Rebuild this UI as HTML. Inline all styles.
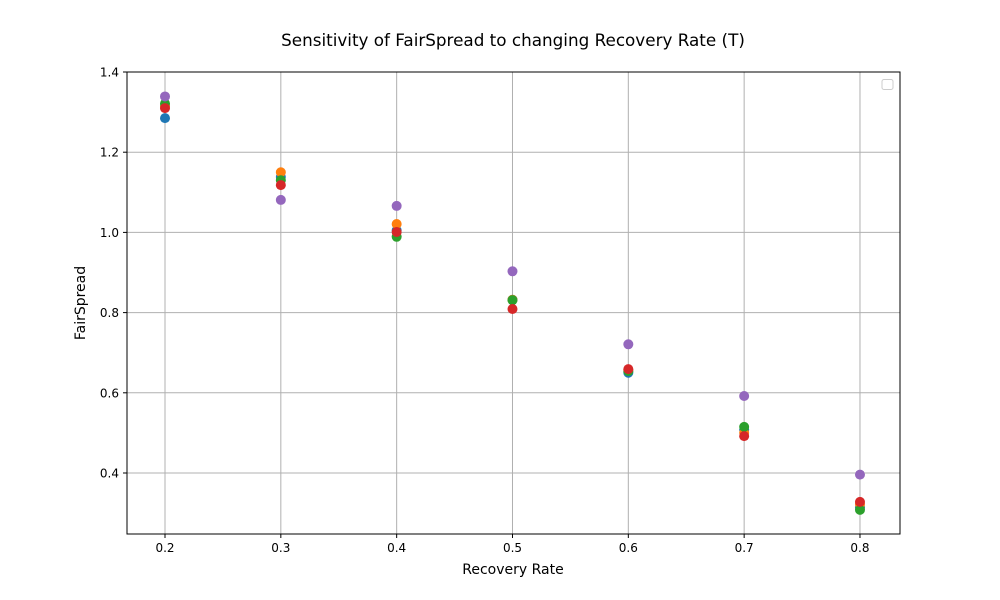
<!DOCTYPE html>
<html><head><meta charset="utf-8"><style>body{margin:0;background:#fff}svg{display:block;font-family:"DejaVu Sans","Liberation Sans",sans-serif}</style></head>
<body>
<svg id="chart" width="1000" height="600">
<rect width="1000" height="600" fill="#fff"/>
<text x="513" y="46" text-anchor="middle" font-size="16.8">Sensitivity of FairSpread to changing Recovery Rate (T)</text>
<g id="grid"></g><g id="ticks"></g><g id="marks"></g>
<rect x="127" y="72" width="773" height="462" fill="none" stroke="#000" stroke-width="1"/>
<rect x="882" y="79.5" width="11" height="10" rx="2" fill="#fff" stroke="#ccc"/>
<text x="513" y="574" text-anchor="middle" font-size="14">Recovery Rate</text>
<text x="85" y="303" text-anchor="middle" font-size="14" transform="rotate(-90 85 303)">FairSpread</text>
</svg>
<script>
const categories=[0.2,0.3,0.4,0.5,0.6,0.7,0.8];
const seriesBlue=[1.285,1.138,1.005,0.832,0.650,0.508,0.315];
const seriesOrange=[1.315,1.150,1.021,0.832,0.657,0.500,0.322];
const seriesGreen=[1.321,1.130,0.989,0.831,0.654,0.515,0.308];
const seriesRed=[1.310,1.118,1.001,0.809,0.659,0.492,0.328];
const seriesPurple=[1.339,1.081,1.066,0.903,0.721,0.592,0.396];
const xTicks=["0.2","0.3","0.4","0.5","0.6","0.7","0.8"];
const yTicks=["0.4","0.6","0.8","1.0","1.2","1.4"];
const NS="http://www.w3.org/2000/svg";
const X=v=>165+(v-0.2)*1158.3;
const Y=v=>72+(1.4-v)*401;
const g=document.getElementById('grid'),t=document.getElementById('ticks'),m=document.getElementById('marks');
function mk(tag,a,p){const e=document.createElementNS(NS,tag);for(const k in a)e.setAttribute(k,a[k]);p.appendChild(e);return e;}
xTicks.forEach(s=>{const x=X(parseFloat(s));
const l=mk('line',{x1:x,x2:x,y1:72,y2:534,stroke:'#b0b0b0','stroke-width':1},g);


mk('line',{x1:x,x2:x,y1:534,y2:538,stroke:'#000'},t);
const tx=mk('text',{x:x,y:552,'text-anchor':'middle','font-size':12},t);tx.textContent=s;

});
yTicks.forEach(s=>{const y=Y(parseFloat(s));
const l=mk('line',{x1:127,x2:900,y1:y,y2:y,stroke:'#b0b0b0','stroke-width':1},g);


mk('line',{x1:123,x2:127,y1:y,y2:y,stroke:'#000'},t);
const tx=mk('text',{x:119,y:y+4.5,'text-anchor':'end','font-size':12},t);tx.textContent=s;

});
[[seriesBlue,'#1f77b4','blue'],[seriesOrange,'#ff7f0e','orange'],[seriesGreen,'#2ca02c','green'],[seriesRed,'#d62728','red'],[seriesPurple,'#9467bd','purple']].forEach(([d,c,n])=>{
d.forEach((v,i)=>{const p=mk('circle',{cx:X(categories[i]),cy:Y(v),r:5,fill:c},m);

});});
</script>
</body></html>
